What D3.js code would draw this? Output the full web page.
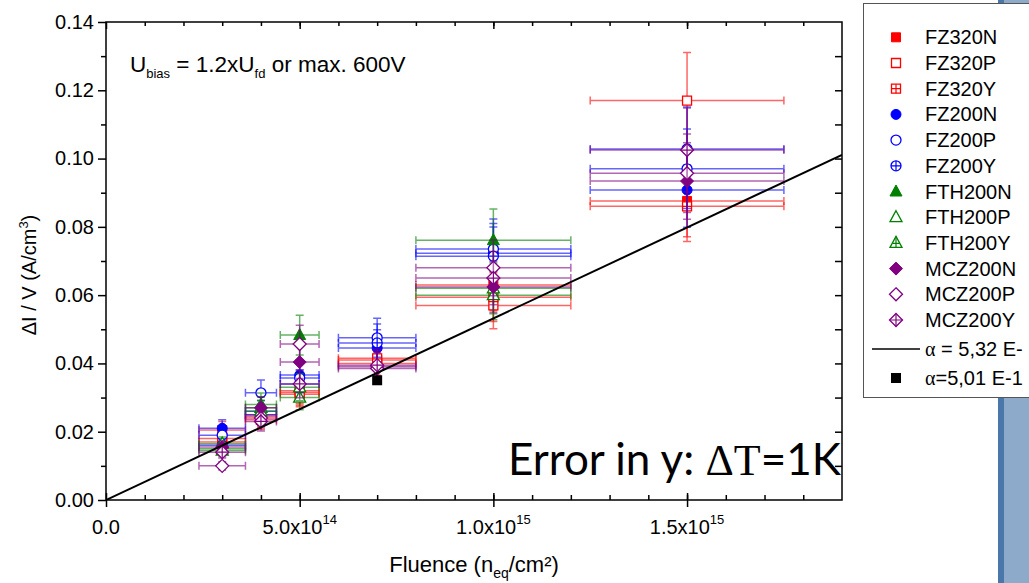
<!DOCTYPE html>
<html><head><meta charset="utf-8">
<script src="https://cdn.jsdelivr.net/npm/d3@7"></script>
<style>body{margin:0;background:#fff;} svg{display:block;font-family:"Liberation Sans",Arial,sans-serif;}</style>
</head><body>
<svg id="chart" width="1029" height="583"></svg>
<script>
// Fluence points (n_eq/cm^2) and their horizontal uncertainties
const fluences   = [3e14, 4e14, 5e14, 7e14, 1e15, 1.5e15];
const fluenceErr = [0.6e14, 0.4e14, 0.5e14, 1e14, 2e14, 2.5e14];

// Delta I / V (A/cm^3) per sensor type, one value per fluence (null = not measured)
const FZ320N  = [0.0205, 0.0250, 0.0320, 0.0410, 0.0630, 0.0876];
const FZ320P  = [0.0180, 0.0235, 0.0310, 0.0415, 0.0570, 0.1170];
const FZ320Y  = [0.0170, 0.0245, 0.0315, 0.0400, 0.0594, 0.0860];
const FZ200N  = [0.0210, 0.0260, 0.0366, 0.0445, 0.0723, 0.0908];
const FZ200P  = [0.0190, 0.0314, 0.0357, 0.0475, 0.0735, 0.0970];
const FZ200Y  = [0.0160, 0.0250, 0.0340, 0.0460, 0.0714, 0.1028];
const FTH200N = [0.0150, 0.0280, 0.0483, null,   0.0761, null];
const FTH200P = [0.0165, 0.0270, 0.0300, null,   0.0600, null];
const FTH200Y = [0.0145, 0.0260, 0.0330, null,   0.0620, null];
const MCZ200N = [0.0155, 0.0270, 0.0404, 0.0390, 0.0624, 0.0934];
const MCZ200P = [0.0100, 0.0240, 0.0457, 0.0385, 0.0680, 0.0957];
const MCZ200Y = [0.0140, 0.0230, 0.0340, 0.0395, 0.0650, 0.1025];

const seriesNames  = ["FZ320N","FZ320P","FZ320Y","FZ200N","FZ200P","FZ200Y",
                      "FTH200N","FTH200P","FTH200Y","MCZ200N","MCZ200P","MCZ200Y"];
const seriesValues = [FZ320N,FZ320P,FZ320Y,FZ200N,FZ200P,FZ200Y,
                      FTH200N,FTH200P,FTH200Y,MCZ200N,MCZ200P,MCZ200Y];
const seriesColors = ["#ff0000","#ff0000","#ff0000","#0000ff","#0000ff","#0000ff",
                      "#008000","#008000","#008000","#800080","#800080","#800080"];
const seriesShapes = ["square","square","square","circle","circle","circle",
                      "triangle","triangle","triangle","diamond","diamond","diamond"];
const seriesStyles = ["filled","open","plus","filled","open","plus",
                      "filled","open","plus","filled","open","plus"];

// Relative y uncertainty for a temperature error of 1 K
const relTempErr = 0.12;

// Damage-rate fit and single reference measurement
const alphaFit   = 5.32e-17;
const alphaPoint = 5.01e-17;
const pointFluence = 7e14;

const yTicks = [0, 0.02, 0.04, 0.06, 0.08, 0.10, 0.12, 0.14];
const xTicks = [0, 5e14, 1e15, 1.5e15];
const xTickMantissa = ["0.0", "5.0x10", "1.0x10", "1.5x10"];
const xTickExponent = ["", "14", "15", "15"];

const svg = d3.select("#chart");
const W = 1029, H = 583;
const L = 106, R = 842, T = 22, B = 500;

const x = d3.scaleLinear().domain([0, 1.9e15]).range([L, R]);
const y = d3.scaleLinear().domain([0, 0.14]).range([B, T]);

// side decoration bar
svg.append("rect").attr("x", 998).attr("y", 0).attr("width", 31).attr("height", H).attr("fill", "#8eaaca");
svg.append("rect").attr("x", 998).attr("y", 0).attr("width", 6).attr("height", H).attr("fill", "#4a77a9");

svg.append("defs").append("clipPath").attr("id", "plotClip")
  .append("rect").attr("x", L).attr("y", T).attr("width", R - L).attr("height", B - T);

const plot = svg.append("g").attr("clip-path", "url(#plotClip)");

function shapePath(shape) {
  switch (shape) {
    case "square":   return "M-4.5,-4.5H4.5V4.5H-4.5Z";
    case "circle":   return "M-5,0A5,5 0 1,0 5,0A5,5 0 1,0 -5,0Z";
    case "triangle": return "M0,-6.5L6,4.5H-6Z";
    case "diamond":  return "M0,-6.5L6.5,0L0,6.5L-6.5,0Z";
  }
}
function plusPath(shape) {
  switch (shape) {
    case "square":   return "M-4.5,0H4.5M0,-4.5V4.5";
    case "circle":   return "M-5,0H5M0,-5V5";
    case "triangle": return "M-3.5,0.5H3.5M0,-6.5V4.5";
    case "diamond":  return "M-6.5,0H6.5M0,-6.5V6.5";
  }
}
function drawMarker(g, shape, style, color) {
  g.append("path").attr("d", shapePath(shape))
    .attr("fill", style === "filled" ? color : "#fff")
    .attr("stroke", color).attr("stroke-width", style === "filled" ? 1 : 1.3);
  if (style === "plus") {
    g.append("path").attr("d", plusPath(shape)).attr("fill", "none")
      .attr("stroke", color).attr("stroke-width", 1.2);
  }
}

// error bars + markers, series by series
seriesValues.forEach((vals, si) => {
  const color = seriesColors[si];
  const pts = fluences.map((f, i) => ({ f, fe: fluenceErr[i], v: vals[i] })).filter(d => d.v != null);
  const eg = plot.append("g").attr("stroke", color).attr("stroke-opacity", 0.6).attr("stroke-width", 1.5).attr("fill", "none");
  pts.forEach(d => {
    const cx = x(d.f), cy = y(d.v);
    const x0 = x(d.f - d.fe), x1 = x(d.f + d.fe);
    const e = d.v * relTempErr;
    const y0 = y(d.v - e), y1 = y(d.v + e);
    eg.append("path").attr("d",
      `M${x0},${cy}H${x1}M${x0},${cy - 4}V${cy + 4}M${x1},${cy - 4}V${cy + 4}` +
      `M${cx},${y0}V${y1}M${cx - 4},${y0}H${cx + 4}M${cx - 4},${y1}H${cx + 4}`);
  });
  pts.forEach(d => {
    const g = plot.append("g").attr("transform", `translate(${x(d.f)},${y(d.v)})`);
    drawMarker(g, seriesShapes[si], seriesStyles[si], color);
  });
});

// linear fit through origin
const fitLine = d3.line().x(d => x(d)).y(d => y(alphaFit * d));
plot.append("path").datum([0, 1.9e15]).attr("d", fitLine)
  .attr("stroke", "#000").attr("stroke-width", 2).attr("fill", "none");

// reference point
plot.append("rect")
  .attr("x", x(pointFluence) - 5).attr("y", y(alphaPoint * pointFluence) - 5)
  .attr("width", 10).attr("height", 10).attr("fill", "#000");

// axes
const axisW = 1.5;
const yAxis = svg.append("g").attr("transform", `translate(${L},0)`)
  .call(d3.axisLeft(y).tickValues(yTicks).tickFormat(d3.format(".2f")).tickSize(8).tickPadding(4));
const yMinor = svg.append("g").attr("transform", `translate(${L},0)`)
  .call(d3.axisLeft(y).tickValues(d3.range(0.01, 0.14, 0.02)).tickFormat("").tickSize(5));
const xAxis = svg.append("g").attr("transform", `translate(0,${B})`)
  .call(d3.axisBottom(x).tickValues(xTicks).tickFormat("").tickSize(7));
const xMinor = svg.append("g").attr("transform", `translate(0,${B})`)
  .call(d3.axisTop(x).tickValues(d3.range(1e14, 1.9e15, 1e14)).tickFormat("").tickSize(5));
const xMajIn = svg.append("g").attr("transform", `translate(0,${B})`)
  .call(d3.axisTop(x).tickValues(xTicks).tickFormat("").tickSize(7));
const topAxis = svg.append("g").attr("transform", `translate(0,${T})`)
  .call(d3.axisBottom(x).tickValues(d3.range(1e14, 1.9e15, 1e14)).tickFormat("").tickSize(4));
const topMaj = svg.append("g").attr("transform", `translate(0,${T})`)
  .call(d3.axisBottom(x).tickValues(xTicks).tickFormat("").tickSize(7));
const rightAxis = svg.append("g").attr("transform", `translate(${R},0)`)
  .call(d3.axisLeft(y).tickValues(d3.range(0.01, 0.14, 0.01)).tickFormat("").tickSize(7));

[yAxis, yMinor, xAxis, xMinor, xMajIn, topAxis, topMaj, rightAxis].forEach(g => {
  g.select(".domain").remove();
  g.selectAll("line").attr("stroke", "#000").attr("stroke-width", axisW);
});
yAxis.selectAll("text").attr("font-size", 20).attr("font-family", "Liberation Sans, Arial, sans-serif").attr("fill", "#000");

// frame
svg.append("rect").attr("x", L).attr("y", T).attr("width", R - L).attr("height", B - T)
  .attr("fill", "none").attr("stroke", "#000").attr("stroke-width", axisW);

// x tick labels with exponent
const xl = svg.append("g").attr("font-size", 20).attr("fill", "#000");
xTicks.forEach((v, i) => {
  const t = xl.append("text").attr("x", x(v)).attr("y", 534).attr("text-anchor", "middle");
  t.append("tspan").text(xTickMantissa[i]);
  if (xTickExponent[i]) t.append("tspan").attr("dy", -10).attr("font-size", 13).text(xTickExponent[i]);
});

// axis titles
const xt = svg.append("text").attr("x", (L + R) / 2).attr("y", 572).attr("text-anchor", "middle")
  .attr("font-size", 22).attr("fill", "#000");
xt.append("tspan").text("Fluence (n");
xt.append("tspan").attr("dy", 6).attr("font-size", 14).text("eq");
xt.append("tspan").attr("dy", -6).text("/cm²)");

const yt = svg.append("text").attr("transform", `translate(36,${(T + B) / 2 + 14}) rotate(-90)`)
  .attr("text-anchor", "middle").attr("font-size", 20).attr("fill", "#000");
yt.append("tspan").text("ΔI / V (A/cm");
yt.append("tspan").attr("dy", -8).attr("font-size", 13).text("3");
yt.append("tspan").attr("dy", 8).text(")");

// bias annotation
const ub = svg.append("text").attr("x", 130).attr("y", 72).attr("font-size", 22.5).attr("fill", "#000");
ub.append("tspan").text("U");
ub.append("tspan").attr("dy", 6).attr("font-size", 13).text("bias");
ub.append("tspan").attr("dy", -6).text(" = 1.2xU");
ub.append("tspan").attr("dy", 6).attr("font-size", 13).text("fd");
ub.append("tspan").attr("dy", -6).text(" or max. 600V");

// temperature error note
const en = svg.append("text").attr("x", 508).attr("y", 475).attr("font-size", 44).attr("fill", "#000")
  .attr("font-family", "Lato, 'Open Sans', sans-serif");
en.append("tspan").text("Error in y: ");
en.append("tspan").attr("font-family", "Liberation Serif, serif").text("ΔT");
en.append("tspan").text("=1K");

// legend
const lg = svg.append("g");
lg.append("rect").attr("x", 863.5).attr("y", 3.5).attr("width", 200).attr("height", 394)
  .attr("fill", "#fff").attr("stroke", "#555").attr("stroke-width", 1);
const rowY = i => 37.3 + i * 25.7;
seriesNames.forEach((name, i) => {
  const g = lg.append("g").attr("transform", `translate(896,${rowY(i)})`);
  drawMarker(g, seriesShapes[i], seriesStyles[i], seriesColors[i]);
  lg.append("text").attr("x", 925).attr("y", rowY(i) + 7).attr("font-size", 20).attr("fill", "#000").text(name);
});
lg.append("line").attr("x1", 872).attr("x2", 920).attr("y1", 349).attr("y2", 349)
  .attr("stroke", "#000").attr("stroke-width", 1.5);
const a1 = lg.append("text").attr("x", 925).attr("y", 356).attr("font-size", 20).attr("fill", "#000");
a1.append("tspan").attr("font-family", "Liberation Serif, serif").text("α");
a1.append("tspan").text(" = 5,32 E-");
lg.append("rect").attr("x", 891).attr("y", 373).attr("width", 10).attr("height", 10).attr("fill", "#000");
const a2 = lg.append("text").attr("x", 925).attr("y", 385).attr("font-size", 20).attr("fill", "#000");
a2.append("tspan").attr("font-family", "Liberation Serif, serif").text("α");
a2.append("tspan").text("=5,01 E-1");
</script>
</body></html>
